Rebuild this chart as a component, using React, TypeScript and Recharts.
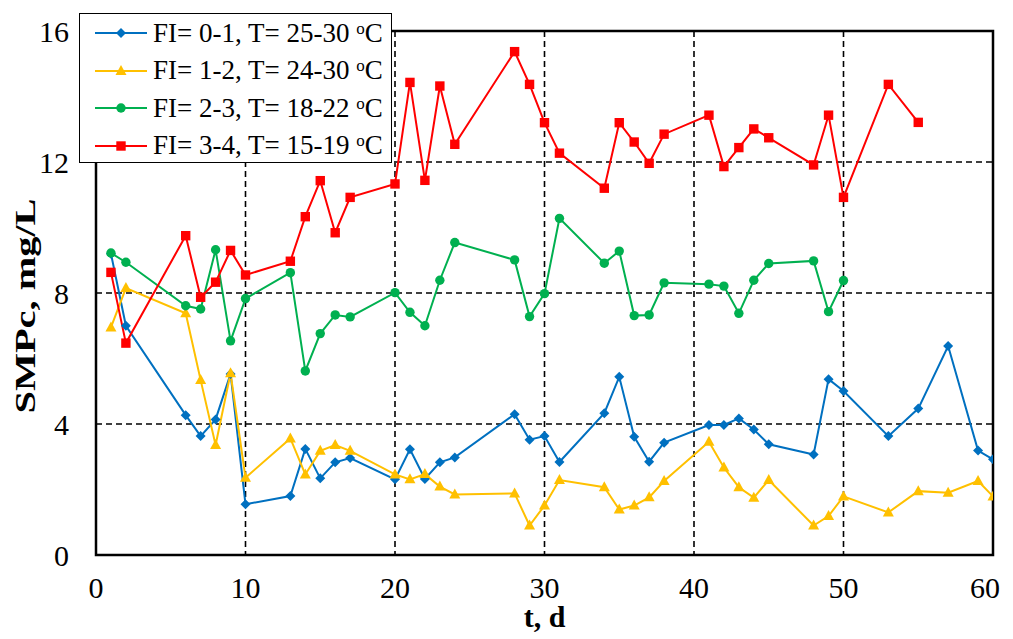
import React from 'react';
import { LineChart, Line, XAxis, YAxis, CartesianGrid, ReferenceArea, Legend } from 'recharts';

const FONT = "'Liberation Serif', 'Times New Roman', serif";

const daysAB = [1, 2, 6, 7, 8, 9, 10, 13, 14, 15, 16, 17, 20, 21, 22, 23, 24, 28, 29, 30, 31, 34, 35, 36, 37, 38, 41, 42, 43, 44, 45, 48, 49, 50, 53, 55, 57, 59, 60];
const daysC = [1, 2, 6, 7, 8, 9, 10, 13, 14, 15, 16, 17, 20, 21, 22, 23, 24, 28, 29, 30, 31, 34, 35, 36, 37, 38, 41, 42, 43, 44, 45, 48, 49, 50];
const daysD = [1, 2, 6, 7, 8, 9, 10, 13, 14, 15, 16, 17, 20, 21, 22, 23, 24, 28, 29, 30, 31, 34, 35, 36, 37, 38, 41, 42, 43, 44, 45, 48, 49, 50, 53, 55];

const fi01 = [9.2, 7.0, 4.27, 3.63, 4.14, 5.53, 1.55, 1.8, 3.24, 2.34, 2.83, 2.96, 2.31, 3.23, 2.32, 2.83, 2.98, 4.3, 3.52, 3.63, 2.84, 4.33, 5.44, 3.61, 2.85, 3.43, 3.97, 3.97, 4.17, 3.83, 3.38, 3.07, 5.37, 5.01, 3.63, 4.47, 6.38, 3.19, 2.92];
const fi12 = [6.95, 8.15, 7.38, 5.34, 3.36, 5.55, 2.36, 3.56, 2.46, 3.18, 3.36, 3.18, 2.46, 2.31, 2.47, 2.09, 1.85, 1.88, 0.9, 1.51, 2.29, 2.07, 1.39, 1.51, 1.76, 2.26, 3.46, 2.67, 2.07, 1.75, 2.29, 0.9, 1.19, 1.79, 1.3, 1.95, 1.9, 2.26, 1.79];
const fi23 = [9.22, 8.94, 7.61, 7.51, 9.32, 6.54, 7.83, 8.62, 5.62, 6.76, 7.33, 7.27, 8.01, 7.41, 7.0, 8.39, 9.54, 9.01, 7.28, 7.98, 10.28, 8.91, 9.28, 7.31, 7.33, 8.31, 8.27, 8.21, 7.38, 8.39, 8.9, 8.98, 7.43, 8.38];
const fi34 = [8.63, 6.47, 9.75, 7.87, 8.33, 9.3, 8.55, 8.97, 10.33, 11.43, 9.84, 10.92, 11.33, 14.43, 11.44, 14.32, 12.54, 15.37, 14.37, 13.2, 12.27, 11.2, 13.2, 12.61, 11.96, 12.85, 13.43, 11.86, 12.44, 13.01, 12.74, 11.91, 13.43, 10.92, 14.37, 13.21];

const xTicks = [0, 10, 20, 30, 40, 50, 60];
const yTicks = [0, 4, 8, 12, 16];

const seriesNames = ['FI= 0-1, T= 25-30 ', 'FI= 1-2, T= 24-30 ', 'FI= 2-3, T= 18-22 ', 'FI= 3-4, T= 15-19 '];
const colors = ['#0070C0', '#FFC000', '#00B050', '#FF0000'];
const shapes = ['diamond', 'triangle', 'circle', 'square'];

const toData = (xs: number[], ys: number[]) => xs.map((x, i) => ({ x, y: ys[i] }));
const series = [
  toData(daysAB, fi01),
  toData(daysAB, fi12),
  toData(daysC, fi23),
  toData(daysD, fi34),
];

function Marker({ shape, cx, cy, color }: { shape: string; cx: number; cy: number; color: string }) {
  if (cx == null || cy == null) return null;
  if (shape === 'diamond') {
    const s = 5;
    return <path d={`M${cx},${cy - s}L${cx + s},${cy}L${cx},${cy + s}L${cx - s},${cy}Z`} fill={color} />;
  }
  if (shape === 'triangle') {
    return <path d={`M${cx},${cy - 6}L${cx + 5.5},${cy + 4}L${cx - 5.5},${cy + 4}Z`} fill={color} />;
  }
  if (shape === 'circle') {
    return <circle cx={cx} cy={cy} r={4.7} fill={color} />;
  }
  return <rect x={cx - 4.7} y={cy - 4.7} width={9.4} height={9.4} fill={color} />;
}

function XTick(props: any) {
  const { x, y, payload, index } = props;
  const shift = index === xTicks.length - 1 ? -8 : 0;
  return (
    <text x={x} y={y} dx={shift} dy={21} textAnchor="middle" fontFamily={FONT} fontSize={30} fill="#000">
      {payload.value}
    </text>
  );
}

function LegendBox() {
  return (
    <div
      style={{
        width: 313,
        height: 150,
        boxSizing: 'border-box',
        border: '1.5px solid #000',
        background: '#fff',
        fontFamily: FONT,
        fontSize: 27,
        color: '#000',
        position: 'relative',
      }}
    >
      {seriesNames.map((name, i) => (
        <div
          key={name}
          style={{ position: 'absolute', left: 14, top: 2 + i * 37.5, height: 34, display: 'flex', alignItems: 'center', whiteSpace: 'nowrap' }}
        >
          <svg width={54} height={20} style={{ marginRight: 5 }}>
            <line x1={1} y1={10} x2={53} y2={10} stroke={colors[i]} strokeWidth={2} />
            <Marker shape={shapes[i]} cx={27} cy={10} color={colors[i]} />
          </svg>
          <span>
            {name}
            <span style={{ fontSize: 17, position: 'relative', top: -8 }}>o</span>
            C
          </span>
        </div>
      ))}
    </div>
  );
}

export default function App() {
  return (
    <div style={{ width: 1005, height: 631 }}>
      <style>{'html { overflow: hidden; }'}</style>
      <LineChart
        width={1005}
        height={631}
        margin={{ top: 23, right: 20, left: 28, bottom: 34 }}
        style={{ fontFamily: FONT }}
      >
        <CartesianGrid stroke="#000" strokeDasharray="6 4" strokeWidth={1.6} />
        <XAxis
          type="number"
          dataKey="x"
          domain={[0, 60]}
          ticks={xTicks}
          allowDataOverflow
          interval={0}
          axisLine={false}
          tickLine={false}
          height={50}
          tickMargin={16}
          tick={<XTick />}
          label={{
            content: (props: any) => {
              const vb = props.viewBox || { x: 88, y: 547, width: 897 };
              return (
                <text x={vb.x + vb.width / 2} y={vb.y + 72} textAnchor="middle" fontFamily={FONT} fontWeight="bold" fontSize={30} fill="#000">
                  t, d
                </text>
              );
            },
          }}
        />
        <YAxis
          type="number"
          dataKey="y"
          domain={[0, 16]}
          ticks={yTicks}
          allowDataOverflow
          axisLine={false}
          tickLine={false}
          width={60}
          tickMargin={21}
          tick={{ fill: '#000', fontSize: 30, fontFamily: FONT }}
          label={{
            content: (props: any) => {
              const vb = props.viewBox || { x: 28, y: 23, width: 60, height: 524 };
              const cx = vb.x - 1;
              const cy = vb.y + vb.height / 2 + 13;
              return (
                <text
                  x={cx}
                  y={cy}
                  transform={`rotate(-90, ${cx}, ${cy})`}
                  textAnchor="middle"
                  fontFamily={FONT}
                  fontWeight="bold"
                  fontSize={30}
                  fill="#000"
                  textLength={215}
                  lengthAdjust="spacingAndGlyphs"
                >
                  SMPc, mg/L
                </text>
              );
            },
          }}
        />
        <ReferenceArea x1={0} x2={60} y1={0} y2={16} fill="none" stroke="#000" strokeWidth={2.5} fillOpacity={0} ifOverflow="visible" />
        {series.map((data, i) => (
          <Line
            key={seriesNames[i]}
            data={data}
            dataKey="y"
            name={seriesNames[i]}
            type="linear"
            stroke={colors[i]}
            strokeWidth={2}
            isAnimationActive={false}
            dot={(p: any) => <Marker key={`${i}-${p.index}`} shape={shapes[i]} cx={p.cx} cy={p.cy} color={colors[i]} />}
            activeDot={false}
          />
        ))}
        <Legend
          layout="horizontal"
          verticalAlign="middle"
          align="center"
          content={() => <LegendBox />}
          wrapperStyle={{ position: 'absolute', left: 71, top: 5, width: 313, height: 150 }}
        />
      </LineChart>
    </div>
  );
}
